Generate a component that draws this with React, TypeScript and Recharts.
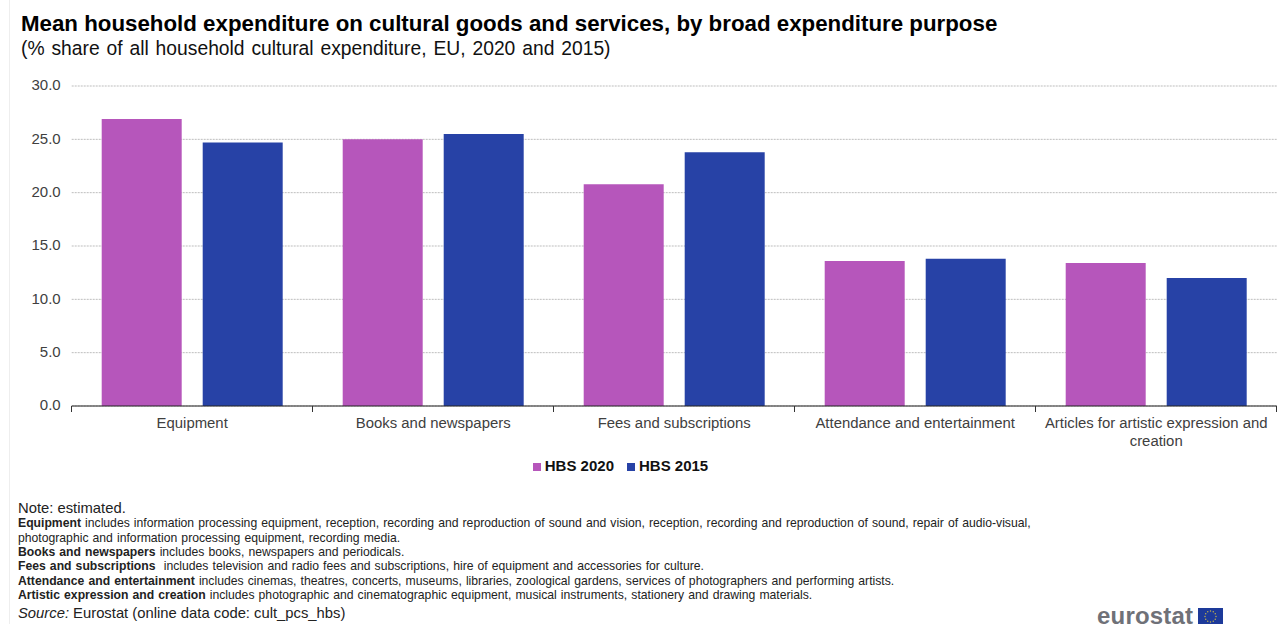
import React from "react";
import { BarChart, Bar, XAxis, YAxis, CartesianGrid, Legend, Text } from "recharts";

const FONT = '"Liberation Sans", Arial, sans-serif';

const categories = [
  "Equipment",
  "Books and newspapers",
  "Fees and subscriptions",
  "Attendance and entertainment",
  "Articles for artistic expression and creation",
];
const hbs2020 = [26.9, 25.0, 20.8, 13.6, 13.4];
const hbs2015 = [24.7, 25.5, 23.8, 13.8, 12.0];
const yTicks = [0, 5, 10, 15, 20, 25, 30];

const COLOR_2020 = "#b656bb";
const COLOR_2015 = "#2742a6";

const rows = categories.map((category, i) => ({
  category,
  "HBS 2020": hbs2020[i],
  "HBS 2015": hbs2015[i],
}));

const noteLines: { top: number; bold: string; rest: string }[] = [
  { top: 516, bold: "Equipment", rest: " includes information processing equipment, reception, recording and reproduction of sound and vision, reception, recording and reproduction of sound, repair of audio-visual," },
  { top: 530.5, bold: "", rest: "photographic and information processing equipment, recording media." },
  { top: 545, bold: "Books and newspapers", rest: " includes books, newspapers and periodicals." },
  { top: 559, bold: "Fees and subscriptions", rest: "  includes television and radio fees and subscriptions, hire of equipment and accessories for culture." },
  { top: 573.5, bold: "Attendance and entertainment", rest: " includes cinemas, theatres, concerts, museums, libraries, zoological gardens, services of photographers and performing artists." },
  { top: 588, bold: "Artistic expression and creation", rest: " includes photographic and cinematographic equipment, musical instruments, stationery and drawing materials." },
];

const BAND = 241;

// Category labels with tick marks on the band edges rather than the band centres.
function CategoryTick({ x, y, payload }: any) {
  const top = y - 8;
  return (
    <g>
      <line x1={x - BAND / 2 - 0.2} x2={x - BAND / 2 - 0.2} y1={top} y2={top + 6} stroke="#333" />
      <line x1={x + BAND / 2 - 0.2} x2={x + BAND / 2 - 0.2} y1={top} y2={top + 6} stroke="#333" />
      <Text
        x={x}
        y={top + 11}
        width={BAND}
        textAnchor="middle"
        verticalAnchor="start"
        lineHeight={18}
        style={{ fontSize: 14.9, fontFamily: FONT, fill: "#404040" }}
      >
        {payload.value}
      </Text>
    </g>
  );
}

function EuFlag() {
  const stars = Array.from({ length: 12 }, (_, i) => i * 30);
  return (
    <svg width={25} height={17} style={{ position: "absolute", left: 1198, top: 608 }}>
      <rect width={25} height={17} fill="#1d3a9a" />
      {stars.map((deg) => (
        <circle
          key={deg}
          cx={12.5 + 5.5 * Math.cos((deg * Math.PI) / 180)}
          cy={8.5 + 5.5 * Math.sin((deg * Math.PI) / 180)}
          r={0.7}
          fill="#c9b84a"
        />
      ))}
    </svg>
  );
}

export default function App() {
  return (
    <div style={{ position: "absolute", left: 0, top: 0, width: 1277, height: 624, overflow: "hidden", background: "#fff", fontFamily: FONT }}>
      <div style={{ position: "absolute", left: 9, top: 0, width: 1, height: 624, background: "#eeeeee" }} />
      <div style={{ position: "absolute", left: 21, top: 11, fontSize: 22.3, fontWeight: 700, color: "#000", whiteSpace: "nowrap" }}>
        Mean household expenditure on cultural goods and services, by broad expenditure purpose
      </div>
      <div style={{ position: "absolute", left: 21, top: 38, fontSize: 19.3, color: "#111", whiteSpace: "nowrap", wordSpacing: 1.5 }}>
        (% share of all household cultural expenditure, EU, 2020 and 2015)
      </div>

      <BarChart
        width={1277}
        height={624}
        data={rows}
        barSize={80}
        barGap={21}
        margin={{ top: 86, right: 0.3, bottom: 178, left: 0.7 }}
        style={{ position: "absolute", left: 0, top: 0 }}
      >
        <CartesianGrid vertical={false} stroke="#bdbdbd" strokeDasharray="2 1" />
        <YAxis
          domain={[0, 30]}
          ticks={yTicks}
          width={71}
          axisLine={false}
          tickLine={false}
          tickMargin={5}
          tickFormatter={(v: number) => v.toFixed(1)}
          tick={{ fontSize: 15, fontFamily: FONT, fill: "#404040", dy: -1 }}
        />
        <XAxis
          dataKey="category"
          height={40}
          interval={0}
          tickLine={false}
          axisLine={{ stroke: "#222" }}
          tick={<CategoryTick />}
        />
        <Legend
          verticalAlign="middle"
          align="center"
          iconType="square"
          iconSize={8}
          itemSorter={null}
          formatter={(value: string) => (
            <span style={{ color: "#111", fontWeight: 700, fontSize: 15, fontFamily: FONT, marginRight: 3 }}>{value}</span>
          )}
          wrapperStyle={{ top: 457, left: 0, width: 1254 }}
        />
        <Bar dataKey="HBS 2020" fill={COLOR_2020} isAnimationActive={false} />
        <Bar dataKey="HBS 2015" fill={COLOR_2015} isAnimationActive={false} />
      </BarChart>

      <div style={{ position: "absolute", left: 18, top: 500, fontSize: 14.8, color: "#222", whiteSpace: "nowrap" }}>Note: estimated.</div>
      {noteLines.map((line) => (
        <div key={line.top} style={{ position: "absolute", left: 18, top: line.top, fontSize: 12.2, color: "#222", whiteSpace: "pre", wordSpacing: 0.7 }}>
          {line.bold ? <b>{line.bold}</b> : null}
          {line.rest}
        </div>
      ))}
      <div style={{ position: "absolute", left: 18, top: 605, fontSize: 14.8, color: "#222", whiteSpace: "nowrap" }}>
        <i>Source:</i> Eurostat (online data code: cult_pcs_hbs)
      </div>

      <div style={{ position: "absolute", left: 1097, top: 602, fontSize: 24, fontWeight: 700, color: "#6f7178", whiteSpace: "nowrap", letterSpacing: 0.2 }}>eurostat</div>
      <EuFlag />
    </div>
  );
}
